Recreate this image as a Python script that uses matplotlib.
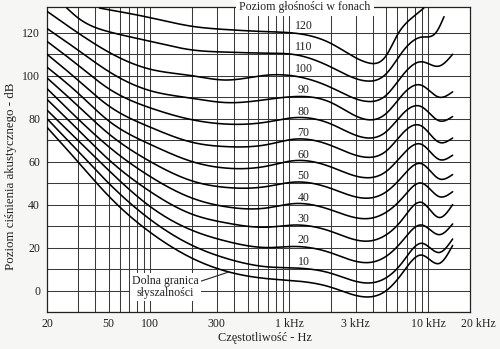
import numpy as np
import matplotlib
matplotlib.use("Agg")
import matplotlib.pyplot as plt
from matplotlib.ticker import FixedLocator, NullFormatter
from matplotlib.transforms import ScaledTranslation

# ---- equal-loudness contours (sound pressure level in dB) ----
freq_hz = [18, 30, 50, 100, 200, 350, 700, 1100, 2000, 3700,
           5000, 6500, 9000, 12000, 15000]

threshold = [76, 60, 44, 27, 15, 9, 5.5, 4.5, 1.5, -3, 0, 8, 16.5, 12.6, 21]
phon_10 = [80, 65, 50, 33, 21, 15, 11, 10.5, 8, 3.5, 6, 13, 22, 17.7, 24]
phon_20 = [84, 70, 56, 39, 28, 23, 20, 20.5, 17.5, 13, 16, 23, 30.5, 26, 31]
phon_30 = [89, 75, 61, 46, 35.5, 31.5, 29.5, 30.5, 27.5, 23, 26, 33, 41, 34, 40]
phon_40 = [94, 80, 67, 53, 43, 39, 38.5, 40.5, 37.5, 33.5, 36.5, 43, 50, 43.7, 46]
phon_50 = [99, 86, 73, 60, 51, 48, 48.5, 50.5, 47.5, 43, 46, 53, 59, 52, 54]
phon_60 = [104, 92, 79, 68, 60, 57, 58, 60.5, 57.5, 52.5, 55.5, 63, 68, 61, 63]
phon_70 = [110, 98, 86, 76, 69, 67, 68, 70.5, 67.5, 62, 65, 73, 76.5, 69, 71]
phon_80 = [116, 105, 94, 85, 79.5, 77.5, 78.5, 80.5, 77.5, 71, 74, 82, 85.5, 79, 81]
phon_90 = [122, 112, 102, 93, 89.5, 87.5, 89, 90.3, 87.5, 79.5, 82.5, 91, 95.5, 90, 92.5]
phon_100 = [130, 120, 111, 103, 100, 98, 100.3, 99.8, 94.5, 88, 91, 100, 106.5, 104.5, 110]

phon_110_freq = [25, 30, 50, 100, 200, 350, 700, 1100, 2000, 3700,
                 5000, 6500, 9000, 11500, 13000]
phon_110 = [131.5, 127, 120.5, 116, 112, 111, 110.5, 109.8, 104, 97.5,
            101, 111, 118, 120.5, 127.5]

phon_120_freq = [43, 100, 200, 350, 700, 1100, 2000, 3700, 5000, 6000, 8000, 9300]
phon_120 = [131.5, 127, 123, 121.5, 120.5, 119.8, 115, 106, 109.5, 119, 128, 131.5]

phon_values = [10, 20, 30, 40, 50, 60, 70, 80, 90, 100, 110, 120]

x_tick_values = [20, 50, 100, 300, 1000, 3000, 10000, 20000]
x_tick_labels = ["20", "50", "100", "300", "1 kHz", "3 kHz", "10 kHz", "20 kHz"]
y_tick_values = [0, 20, 40, 60, 80, 100, 120]


def natural_spline(x, y, xs):
    """Natural cubic spline through (x, y), evaluated at xs."""
    x = np.asarray(x, float)
    y = np.asarray(y, float)
    n = len(x)
    h = np.diff(x)
    A = np.zeros((n, n))
    b = np.zeros(n)
    A[0, 0] = A[-1, -1] = 1.0
    for i in range(1, n - 1):
        A[i, i - 1] = h[i - 1]
        A[i, i] = 2 * (h[i - 1] + h[i])
        A[i, i + 1] = h[i]
        b[i] = 6 * ((y[i + 1] - y[i]) / h[i] - (y[i] - y[i - 1]) / h[i - 1])
    M = np.linalg.solve(A, b)
    i = np.clip(np.searchsorted(x, xs) - 1, 0, n - 2)
    hi = h[i]
    a = x[i + 1] - xs
    c = xs - x[i]
    return (M[i] * a**3 / (6 * hi) + M[i + 1] * c**3 / (6 * hi)
            + (y[i] / hi - M[i] * hi / 6) * a
            + (y[i + 1] / hi - M[i + 1] * hi / 6) * c)


def smooth_curve(freqs, levels):
    lf = np.log10(freqs)
    grid = np.linspace(lf[0], lf[-1], 500)
    return 10 ** grid, natural_spline(lf, levels, grid)


plt.rcParams["font.family"] = ["Liberation Serif", "DejaVu Serif"]
plt.rcParams["font.size"] = 8.6

fig = plt.figure(figsize=(5.0, 3.49), dpi=100, facecolor="#f6f6f4")
ax = fig.add_axes([47 / 500, 1 - 312 / 349, 423 / 500, 305 / 349])
ax.set_facecolor("white")
ax.set_xscale("log")
ax.set_xlim(18, 20000)
ax.set_ylim(-10, 132)

# grid
x_grid = ([30, 40, 50, 60, 70, 80, 90]
          + [100 * k for k in range(1, 10)]
          + [1000 * k for k in range(1, 10)] + [10000])
ax.xaxis.set_major_locator(FixedLocator(x_tick_values))
ax.set_xticklabels(x_tick_labels)
ax.xaxis.set_minor_locator(FixedLocator(x_grid))
ax.xaxis.set_minor_formatter(NullFormatter())
ax.yaxis.set_major_locator(FixedLocator(y_tick_values))
ax.yaxis.set_minor_locator(FixedLocator(list(range(-10, 121, 10))))
ax.yaxis.set_minor_formatter(NullFormatter())
ax.xaxis.remove_overlapping_locs = False
ax.yaxis.remove_overlapping_locs = False
ax.grid(False, which="major")
ax.grid(True, which="minor", color="#3a3a3a", linewidth=0.75)
ax.tick_params(which="both", length=0, labelsize=8.6, colors="#222222")
ax.tick_params(axis="x", pad=4)
ax.tick_params(axis="y", pad=5)
for s in ax.spines.values():
    s.set_color("#222222")
    s.set_linewidth(0.9)

# nudge the end labels of the frequency axis
labels = ax.get_xticklabels()
labels[0].set_transform(labels[0].get_transform()
                        + ScaledTranslation(-6 / 100, 0, fig.dpi_scale_trans))
labels[-1].set_transform(labels[-1].get_transform()
                         + ScaledTranslation(8 / 100, 0, fig.dpi_scale_trans))

# contours
curves = [threshold, phon_10, phon_20, phon_30, phon_40, phon_50, phon_60,
          phon_70, phon_80, phon_90, phon_100]
for levels in curves:
    fx, fy = smooth_curve(freq_hz, levels)
    ax.plot(fx, fy, color="black", lw=1.15, solid_capstyle="round", zorder=3)
for fr, levels in [(phon_110_freq, phon_110), (phon_120_freq, phon_120)]:
    fx, fy = smooth_curve(fr, levels)
    ax.plot(fx, fy, color="black", lw=1.15, solid_capstyle="round", zorder=3)

# phon labels
for p in phon_values:
    ax.text(1270, p + 3.3, str(p), ha="center", va="center", zorder=4,
            color="#222222")

ax.text(0.61, 1.0, "Poziom głośności w fonach", transform=ax.transAxes,
        ha="center", va="center", color="#222222", zorder=5, clip_on=False,
        bbox=dict(boxstyle="square,pad=0.25", fc="white", ec="none"))

thr_label_f = 370
thr_label_y = float(np.interp(np.log10(thr_label_f), np.log10(freq_hz), threshold))
ax.annotate("Dolna granica\nsłyszalności", xy=(thr_label_f, thr_label_y),
            xytext=(128, 1.6), ha="center", va="center", color="#222222",
            linespacing=0.95, zorder=5,
            bbox=dict(boxstyle="square,pad=0.2", fc="white", ec="none"),
            arrowprops=dict(arrowstyle="-", color="#222222", lw=0.8,
                            relpos=(1.0, 0.72), shrinkA=0, shrinkB=0))

fig.text(265 / 500, 1 - 338 / 349, "Częstotliwość - Hz", ha="center",
         va="center", color="#222222", fontsize=8.8)
fig.text(11 / 500, 1 - 176 / 349, "Poziom ciśnienia akustycznego - dB",
         ha="center", va="center", rotation=90, color="#222222", fontsize=9.3)

fig.savefig("out.png", dpi=100, facecolor=fig.get_facecolor())
